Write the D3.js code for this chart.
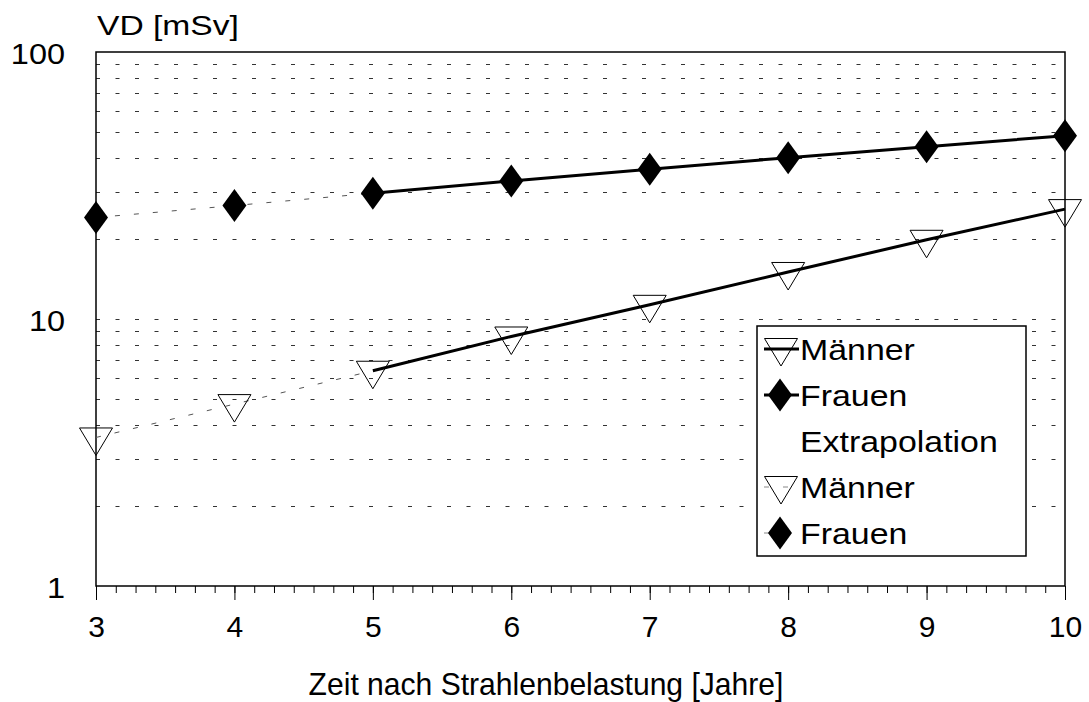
<!DOCTYPE html>
<html>
<head>
<meta charset="utf-8">
<script src="https://cdn.jsdelivr.net/npm/d3@7"></script>
<style>
  body { margin: 0; background: #fff; }
  svg text { font-family: "Liberation Sans", Arial, Helvetica, sans-serif; fill: #000; }
</style>
</head>
<body>
<div id="chart"></div>
<script>
// Jahre nach Strahlenbelastung
var years = [3, 4, 5, 6, 7, 8, 9, 10];
// VD [mSv]
var maenner = [3.6, 4.8, 6.4, 8.6, 11.3, 15.0, 19.8, 25.8];
var frauen = [24.0, 26.6, 29.6, 32.9, 36.4, 40.2, 44.2, 48.6];
// ab diesem Jahr gemessen, davor Extrapolation
var measuredFrom = 5;

var yTicks = [1, 10, 100];
var yGrid = [2, 3, 4, 5, 6, 7, 8, 9, 10, 20, 30, 40, 50, 60, 70, 80, 90];
var legendLabels = ['Männer', 'Frauen', 'Extrapolation', 'Männer', 'Frauen'];

var W = 1089, H = 702;
var margin = {top: 52, right: 24, bottom: 116, left: 96};
var width = 1065 - margin.left,
  height = 586 - margin.top;

var svg = d3.select('#chart').append('svg')
  .attr('width', W)
  .attr('height', H);

var x = d3.scaleLinear().domain([3, 10]).range([0, width]);
var y = d3.scaleLog().domain([1, 100]).range([height, 0]);

// schrift im original ist etwas breiter gezogen
function stretch(sel, sx) {
  sel.each(function () {
    var t = d3.select(this);
    var ax = +t.attr('x') || 0;
    t.attr('transform', 'translate(' + ax + ',0) scale(' + sx + ',1) translate(' + (-ax) + ',0)');
  });
}

var g = svg.append('g')
  .attr('transform', 'translate(' + margin.left + ',' + margin.top + ')');

// gitterlinien (gestrichelt)
g.selectAll('.grid')
  .data(yGrid)
  .enter().append('line')
  .attr('class', 'grid')
  .attr('x1', 0)
  .attr('x2', width)
  .attr('y1', function (d) { return Math.round(y(d)) + 0.5; })
  .attr('y2', function (d) { return Math.round(y(d)) + 0.5; })
  .attr('stroke', '#333')
  .attr('stroke-width', 1)
  .attr('stroke-dasharray', '4,15.5');

// x achse mit kleinen ticks (7 teilungen pro jahr)
var minorTicks = d3.range(3, 10.0001, 1 / 7);
g.append('g')
  .attr('transform', 'translate(0,' + height + ')')
  .call(d3.axisBottom(x).tickValues(minorTicks).tickSize(7).tickFormat(''))
  .call(function (a) { a.select('.domain').remove(); a.selectAll('line').attr('stroke-width', 1); });

var xAxis = g.append('g')
  .attr('transform', 'translate(0,' + height + ')')
  .call(d3.axisBottom(x).tickValues(years).tickSize(14).tickPadding(16).tickFormat(d3.format('d')));
xAxis.select('.domain').remove();
xAxis.selectAll('text').attr('font-size', 30).attr('font-family', '"Liberation Sans", Arial, sans-serif');

var yAxis = g.append('g')
  .call(d3.axisLeft(y).tickValues(yTicks).tickSize(0).tickPadding(31).tickFormat(d3.format('d')));
yAxis.select('.domain').remove();
yAxis.selectAll('text')
  .attr('font-size', 29)
  .attr('dy', '0.38em')
  .attr('font-family', '"Liberation Sans", Arial, sans-serif')
  .attr('transform', 'scale(1.12,1)');
// scale um den rechten rand der labels
yAxis.selectAll('text').each(function () {
  var t = d3.select(this), ax = +t.attr('x');
  t.attr('transform', 'translate(' + ax + ',0) scale(1.12,1) translate(' + (-ax) + ',0)');
});

// rahmen
g.append('rect')
  .attr('x', 0)
  .attr('y', 0)
  .attr('width', width)
  .attr('height', height)
  .attr('fill', 'none')
  .attr('stroke', '#000')
  .attr('stroke-width', 1.5);

function pts(vals) {
  return years.map(function (yr, i) { return {x: yr, v: vals[i]}; });
}

var line = d3.line()
  .x(function (d) { return x(d.x); })
  .y(function (d) { return y(d.v); });

[maenner, frauen].forEach(function (vals) {
  var p = pts(vals);
  g.append('path')
    .datum(p.filter(function (d) { return d.x <= measuredFrom; }))
    .attr('d', line)
    .attr('fill', 'none')
    .attr('stroke', '#555')
    .attr('stroke-width', 1)
    .attr('stroke-dasharray', '5,14');
  g.append('path')
    .datum(p.filter(function (d) { return d.x >= measuredFrom; }))
    .attr('d', line)
    .attr('fill', 'none')
    .attr('stroke', '#000')
    .attr('stroke-width', 3);
});

// marker
var triPath = 'M-16.5,-9.5L16.5,-9.5L0,18Z';
var diaPath = 'M0,-16.5L12,0L0,16.5L-12,0Z';

g.selectAll('.tri')
  .data(pts(maenner))
  .enter().append('path')
  .attr('class', 'tri')
  .attr('d', triPath)
  .attr('transform', function (d) { return 'translate(' + x(d.x) + ',' + y(d.v) + ')'; })
  .attr('fill', 'none')
  .attr('stroke', '#000')
  .attr('stroke-width', 1);

g.selectAll('.dia')
  .data(pts(frauen))
  .enter().append('path')
  .attr('class', 'dia')
  .attr('d', diaPath)
  .attr('transform', function (d) { return 'translate(' + x(d.x) + ',' + y(d.v) + ')'; })
  .attr('fill', '#000');

// legende
var leg = svg.append('g').attr('transform', 'translate(757,326)');
leg.append('rect')
  .attr('width', 269)
  .attr('height', 230)
  .attr('fill', '#fff')
  .attr('stroke', '#000')
  .attr('stroke-width', 1.5);

var rowY = function (i) { return 23 + i * 46; };

legendLabels.forEach(function (lbl, i) {
  var cy = rowY(i);
  var row = leg.append('g');
  if (i === 0 || i === 1) {
    row.append('line')
      .attr('x1', 7).attr('x2', 42)
      .attr('y1', cy).attr('y2', cy)
      .attr('stroke', '#000').attr('stroke-width', 3);
  }
  if (i === 3 || i === 4) {
    row.append('line')
      .attr('x1', 7).attr('x2', 42)
      .attr('y1', cy).attr('y2', cy)
      .attr('stroke', '#888').attr('stroke-width', 1)
      .attr('stroke-dasharray', '5,14');
  }
  if (i === 0 || i === 3) {
    row.append('path')
      .attr('d', triPath)
      .attr('transform', 'translate(24,' + (cy - 1) + ')')
      .attr('fill', 'none')
      .attr('stroke', '#000')
      .attr('stroke-width', 1);
  }
  if (i === 1 || i === 4) {
    row.append('path')
      .attr('d', diaPath)
      .attr('transform', 'translate(23,' + cy + ')')
      .attr('fill', '#000');
  }
  row.append('text')
    .attr('x', 43)
    .attr('y', cy)
    .attr('dy', '0.36em')
    .attr('font-size', 30)
    .text(lbl)
    .call(stretch, 1.13);
});

// titel
svg.append('text')
  .attr('x', margin.left + 1)
  .attr('y', 35)
  .attr('font-size', 28)
  .text('VD [mSv]')
  .call(stretch, 1.2);

svg.append('text')
  .attr('x', 546)
  .attr('y', 695)
  .attr('text-anchor', 'middle')
  .attr('font-size', 32)
  .text('Zeit nach Strahlenbelastung [Jahre]')
  .call(stretch, 0.94);
</script>
</body>
</html>
